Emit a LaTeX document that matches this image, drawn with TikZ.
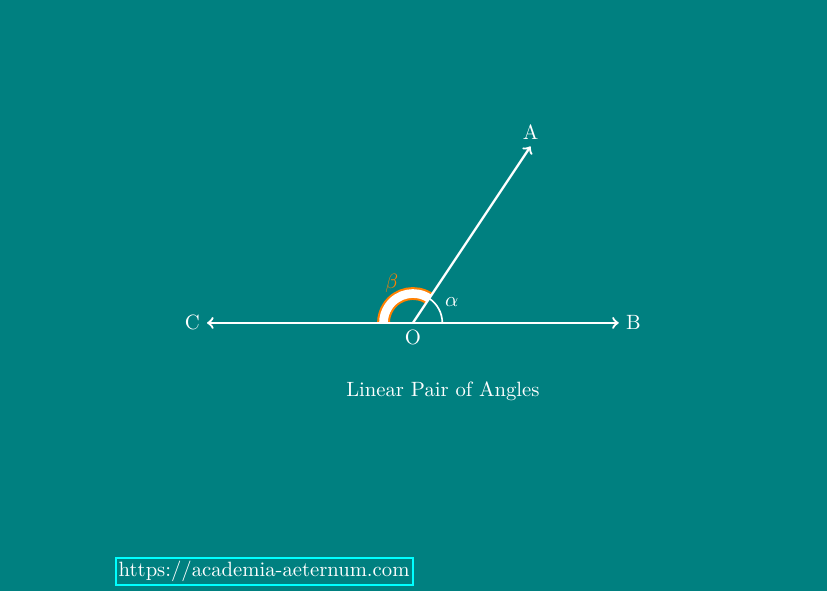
\documentclass[tikz,border=0pt]{standalone}
\usetikzlibrary{calc}
\definecolor{bgteal}{RGB}{0,128,128}
\definecolor{cyanb}{RGB}{0,255,255}
\definecolor{orng}{RGB}{255,128,0}
\begin{document}
\begin{tikzpicture}[
  ray/.style={draw=white, line width=1.1pt, ->},
  lbl/.style={text=white},
]
\fill[bgteal] (-7.02,-4.56) rectangle (7.04,5.49);
\useasboundingbox (-7.02,-4.56) rectangle (7.04,5.49);
\coordinate (O) at (0,0);
\coordinate (A) at (2,3);
\coordinate (B) at (3.5,0);
\coordinate (C) at (-3.5,0);
% beta arc
\draw[orng, line width=1pt, double=white, double distance=4.2pt]
  ($(O)+(56.31:0.5)$) arc[start angle=56.31, end angle=180, radius=0.5];
% alpha arc
\draw[white, line width=0.8pt] ($(O)+(0.5,0)$) arc[start angle=0, end angle=56.31, radius=0.5];
\draw[ray] (O) -- (A);
\draw[ray] (O) -- (B);
\draw[ray] (O) -- (C);
\node[lbl, above] at (A) {A};
\node[lbl, right] at (B) {B};
\node[lbl, left] at (C) {C};
\node[lbl, below] at (O) {O};
\node[lbl] at (0.66,0.36) {$\alpha$};
\node[text=orng] at (-0.36,0.68) {$\beta$};
\node[lbl] at (0.51,-1.16) {Linear Pair of Angles};
\node[draw=cyanb, line width=1pt, text=white, inner sep=1.5pt] at (-2.53,-4.22) {https://academia-aeternum.com};
\end{tikzpicture}
\end{document}
